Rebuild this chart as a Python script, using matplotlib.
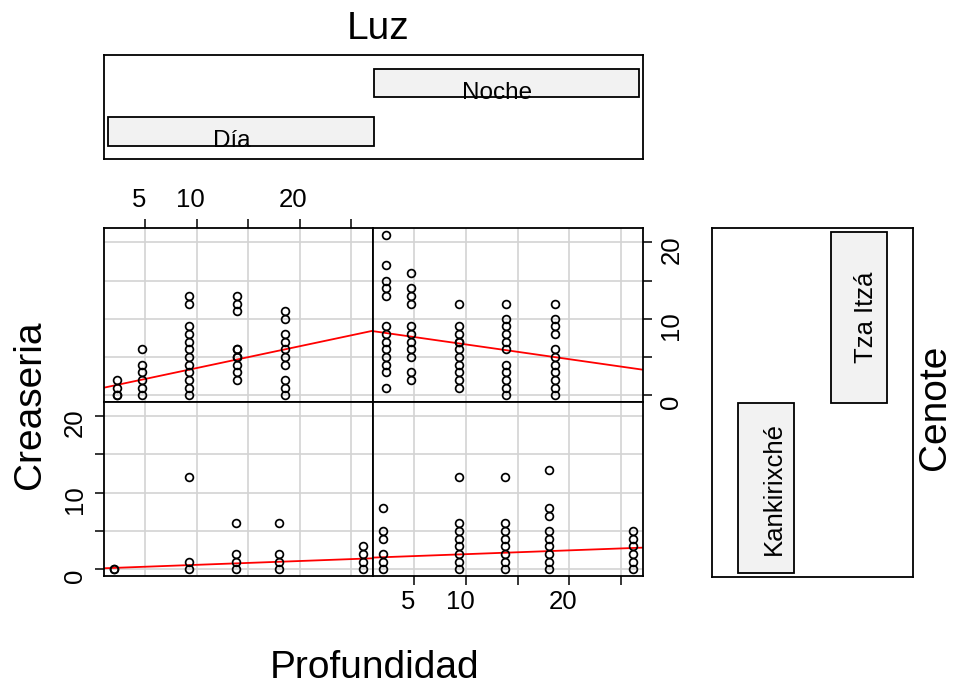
import matplotlib
matplotlib.use("Agg")
import matplotlib.pyplot as plt
import matplotlib.transforms as mtransforms
from matplotlib.patches import Rectangle
import numpy as np

plt.rcParams['font.family'] = ['Liberation Sans', 'DejaVu Sans']

W, H = 967, 690          # figure size in pixels
DPI = 100

# ---------------------------------------------------------------- data ----

luz_levels = ['Día', 'Noche']
cenote_levels = ['Kankirixché', 'Tza Itzá']

# sampling depths for each cenote
depth_tza = [2.3, 4.7, 9.3, 13.9, 18.6]
depth_kan = [2.0, 9.3, 13.8, 18.0, 26.2]

# Creaseria counts at each depth (one list per depth)
tza_dia = [[0, 0, 1, 2],
           [0, 1, 2, 3, 4, 6],
           [0, 1, 2, 3, 4, 5, 6, 7, 8, 9, 12, 13],
           [2, 3, 4, 5, 5, 6, 6, 11, 12, 13],
           [0, 1, 2, 4, 5, 6, 7, 8, 10, 11]]
tza_noche = [[1, 3, 4, 5, 6, 7, 8, 9, 13, 14, 15, 17, 21],
             [2, 3, 5, 6, 7, 8, 9, 12, 13, 14, 16],
             [1, 2, 3, 4, 5, 6, 7, 7, 8, 9, 12],
             [0, 1, 2, 3, 4, 6, 7, 8, 9, 10, 12],
             [0, 1, 2, 3, 4, 5, 6, 8, 9, 10, 12]]
kan_dia = [[0, 0],
           [0, 1, 12],
           [0, 1, 2, 6],
           [0, 1, 2, 6],
           [0, 1, 2, 3]]
kan_noche = [[0, 1, 2, 4, 5, 8],
             [0, 1, 2, 3, 4, 5, 6, 12],
             [0, 1, 2, 3, 4, 5, 6, 12],
             [0, 1, 2, 3, 4, 5, 7, 8, 13],
             [0, 1, 2, 3, 4, 5]]

# fitted lines per panel (intercept, slope)
fit_tza_dia = (0.71, 0.285)
fit_tza_noche = (8.58, -0.193)
fit_kan_dia = (0.08, 0.0497)
fit_kan_noche = (1.47, 0.0497)

x_ticks = [5, 10, 15, 20, 25]
x_ticklabels = ['5', '10', '', '20', '']
y_ticks = [0, 5, 10, 15, 20]
y_ticklabels = ['0', '', '10', '', '20']

XLIM = (1.03, 27.17)
YLIM = (-0.84, 21.84)

BOX_LW = 1.3


def px_rect(x0, y0, x1, y1):
    """pixel box (top-left origin) -> figure fraction rect"""
    return [x0 / W, 1 - y1 / H, (x1 - x0) / W, (y1 - y0) / H]


def expand(depths, counts):
    xs, ys = [], []
    for d, c in zip(depths, counts):
        xs += [d] * len(c)
        ys += c
    return np.array(xs), np.array(ys)


fig = plt.figure(figsize=(W / DPI, H / DPI), dpi=DPI)
shift_x = mtransforms.ScaledTranslation(-6 / DPI, 0, fig.dpi_scale_trans)
shift_y = mtransforms.ScaledTranslation(0, -7 / DPI, fig.dpi_scale_trans)

panels = [
    # rect, depths, counts, fit, axis side
    ((104.3, 228.3, 373.3, 401.7), depth_tza, tza_dia, fit_tza_dia, 'top'),
    ((373.3, 228.3, 643.3, 401.7), depth_tza, tza_noche, fit_tza_noche, 'right'),
    ((104.3, 401.7, 373.3, 575.7), depth_kan, kan_dia, fit_kan_dia, 'left'),
    ((373.3, 401.7, 643.3, 575.7), depth_kan, kan_noche, fit_kan_noche, 'bottom'),
]

for rect, depths, counts, fit, side in panels:
    ax = fig.add_axes(px_rect(*rect))
    ax.set_xlim(*XLIM)
    ax.set_ylim(*YLIM)
    ax.set_xticks(x_ticks)
    ax.set_yticks(y_ticks)
    ax.set_axisbelow(True)
    ax.grid(True, color='#d3d3d3', linewidth=1.2)
    for sp in ax.spines.values():
        sp.set_linewidth(BOX_LW)

    xs, ys = expand(depths, counts)
    ax.plot(xs, ys, 'o', ms=5.6, mfc='none', mec='black', mew=1.25, zorder=3)
    ax.axline((0, fit[0]), slope=fit[1], color='red', lw=1.3, zorder=2)

    ax.tick_params(which='both', bottom=False, top=False, left=False, right=False,
                   labelbottom=False, labeltop=False, labelleft=False, labelright=False,
                   length=6.5, width=1.1, labelsize=18.5)
    if side in ('top', 'bottom'):
        ax.set_xticklabels(x_ticklabels)
        if side == 'top':
            ax.tick_params(axis='x', top=True, labeltop=True, pad=5)
        else:
            ax.tick_params(axis='x', bottom=True, labelbottom=True, pad=4)
        for lbl in ax.get_xticklabels():
            lbl.set_transform(lbl.get_transform() + shift_x)
    else:
        ax.set_yticklabels(y_ticklabels)
        if side == 'left':
            ax.tick_params(axis='y', left=True, labelleft=True, pad=6, labelrotation=90)
        else:
            ax.tick_params(axis='y', right=True, labelright=True, pad=5, labelrotation=90)
        for lbl in ax.get_yticklabels():
            lbl.set_va('center')
            lbl.set_transform(lbl.get_transform() + shift_y)

# given panel for Luz (horizontal bars)
ax_luz = fig.add_axes(px_rect(104.3, 55, 643.3, 159.3))
ax_luz.set_xlim(0.487, 2.515)
ax_luz.set_ylim(0.42, 2.58)
ax_luz.set_xticks([])
ax_luz.set_yticks([])
for sp in ax_luz.spines.values():
    sp.set_linewidth(BOX_LW)
shift_txt = mtransforms.ScaledTranslation(-9 / DPI, 0, fig.dpi_scale_trans)
for i, name in enumerate(luz_levels, start=1):
    bar = Rectangle((i - 0.5, i - 0.3), 1.0, 0.6, facecolor='#f2f2f2',
                    edgecolor='black', linewidth=BOX_LW, zorder=2)
    ax_luz.add_patch(bar)
    t = ax_luz.text(i, i - 0.33, name, ha='center', va='baseline', fontsize=17.5)
    t.set_transform(ax_luz.transData + shift_txt)
    t.set_clip_path(bar)
    t.set_zorder(3)

# given panel for Cenote (vertical bars)
ax_cen = fig.add_axes(px_rect(712.3, 228.3, 912.7, 576.7))
ax_cen.set_xlim(0.42, 2.58)
ax_cen.set_ylim(0.48, 2.523)
ax_cen.set_xticks([])
ax_cen.set_yticks([])
for sp in ax_cen.spines.values():
    sp.set_linewidth(BOX_LW)
for i, name in enumerate(cenote_levels, start=1):
    bar = Rectangle((i - 0.3, i - 0.5), 0.6, 1.0, facecolor='#f2f2f2',
                    edgecolor='black', linewidth=BOX_LW, zorder=2)
    ax_cen.add_patch(bar)
    ax_cen.text(i + 0.155, i, name, rotation=90, rotation_mode='anchor',
                ha='center', va='baseline', fontsize=18.5, zorder=3)

# outer labels
fig.text(378 / W, 1 - 39 / H, 'Luz', ha='center', va='baseline', fontsize=28)
fig.text(375 / W, 1 - 678 / H, 'Profundidad', ha='center', va='baseline', fontsize=28)
fig.text(40 / W, 1 - 405 / H, 'Creaseria', rotation=90, rotation_mode='anchor',
         ha='center', va='baseline', fontsize=28)
fig.text(945 / W, 1 - 407 / H, 'Cenote', rotation=90, rotation_mode='anchor',
         ha='center', va='baseline', fontsize=28)

fig.savefig('out.png', dpi=DPI)
